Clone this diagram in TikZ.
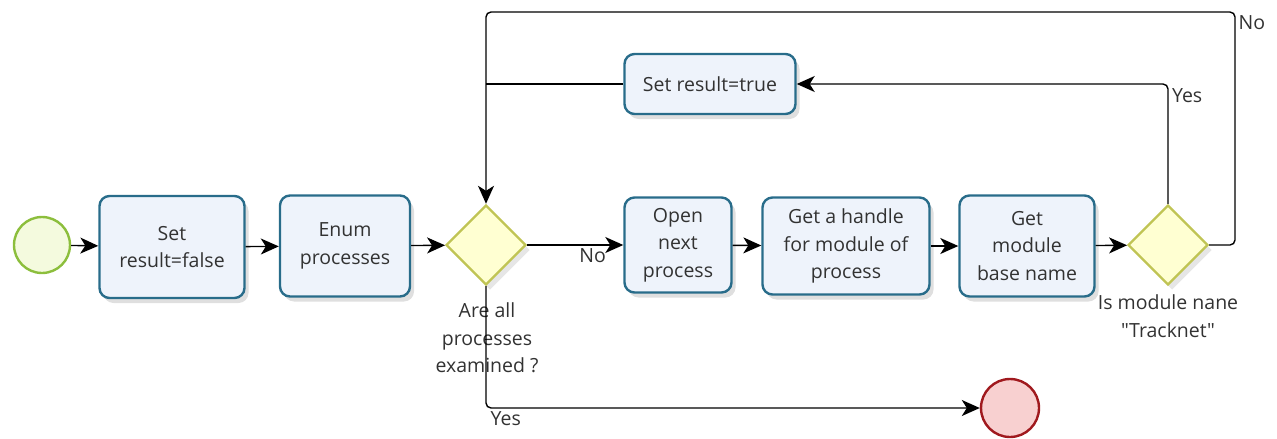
\documentclass[tikz,border=0pt]{standalone}
\usepackage{fontspec}
\setmainfont{Open Sans}[Ligatures=TeXOff]
\usepackage{xcolor}
\usetikzlibrary{arrows.meta,shapes.geometric,shadows}

\definecolor{taskline}{RGB}{40,108,138}
\definecolor{taskfill}{RGB}{238,243,251}
\definecolor{startline}{RGB}{140,190,60}
\definecolor{startfill}{RGB}{244,250,222}
\definecolor{gateline}{RGB}{192,196,84}
\definecolor{gatefill}{RGB}{255,255,210}
\definecolor{endline}{RGB}{160,25,30}
\definecolor{endfill}{RGB}{248,208,208}
\definecolor{txt}{RGB}{50,50,50}

\begin{document}
\begin{tikzpicture}[x=1pt, y=-1pt,
  font=\fontsize{19.5}{27.5}\selectfont, text=txt,
  task/.style={draw=taskline, line width=2.4pt, rounded corners=10pt, fill=taskfill, align=center, inner sep=0pt,
    drop shadow={opacity=0.25, shadow xshift=4pt, shadow yshift=-5pt}},
  gate/.style={draw=gateline, diamond, line width=2.4pt, fill=gatefill, minimum size=80pt, inner sep=0pt,
    drop shadow={opacity=0.2, shadow xshift=4pt, shadow yshift=-5pt}},
  flow/.style={-{Stealth[length=18pt, width=16pt, inset=5pt]}, line width=1.4pt, rounded corners=5pt}]
\useasboundingbox (0,0) rectangle (1277,439);

\node[draw=startline, circle, line width=2.4pt, fill=startfill, minimum size=56pt] at (42,245) (start) {};
\node[task, minimum width=145pt, minimum height=102pt] at (172,247) (t1) {Set\\result=false};
\node[task, minimum width=130pt, minimum height=101pt] at (345,246) (t2) {Enum\\processes};
\node[gate] at (486,245) (g1) {};
\node[task, minimum width=107pt, minimum height=95pt] at (678,245) (t3) {Open\\next\\process};
\node[task, minimum width=167pt, minimum height=97pt] at (846,246) (t4) {Get a handle\\for module of\\process};
\node[task, minimum width=135pt, minimum height=101pt] at (1027,246) (t5) {Get\\module\\base name};
\node[gate] at (1168,245) (g2) {};
\node[task, minimum width=171pt, minimum height=60pt] at (710,84) (t6) {Set result=true};
\node[draw=endline, circle, line width=2.4pt, fill=endfill, minimum size=58pt] at (1010,408) (stop) {};

\node[align=center] at (487,338) (q1) {Are all\\processes\\examined ?};
\node[align=center] at (1168,316) (q2) {Is module nane\\"Tracknet"};

\coordinate (turn) at (1235,12);
\coordinate (loop) at (486,12);

\path[flow] (start) edge (t1);
\path[flow] (t1) edge (t2);
\path[flow] (t2) edge (g1);
\draw[flow] (g1) -- node[pos=0.68, below]{No} (t3);
\path[flow] (t3) edge (t4);
\path[flow] (t4) edge (t5);
\path[flow] (t5) edge (g2);

\draw[flow] (g2.north) |- node[pos=0.45, anchor=west]{Yes} (t6.east);
\draw[flow] (g2.east) -| (turn) node[anchor=north west, inner sep=3pt]{No} -- (loop) -- (g1.north);
\draw[line width=1.4pt] (t6.west) -- (t6.west -| g1.north);
\draw[flow] (g1.south) |- node[pos=0.52, below]{Yes} (stop);

\end{tikzpicture}
\end{document}
